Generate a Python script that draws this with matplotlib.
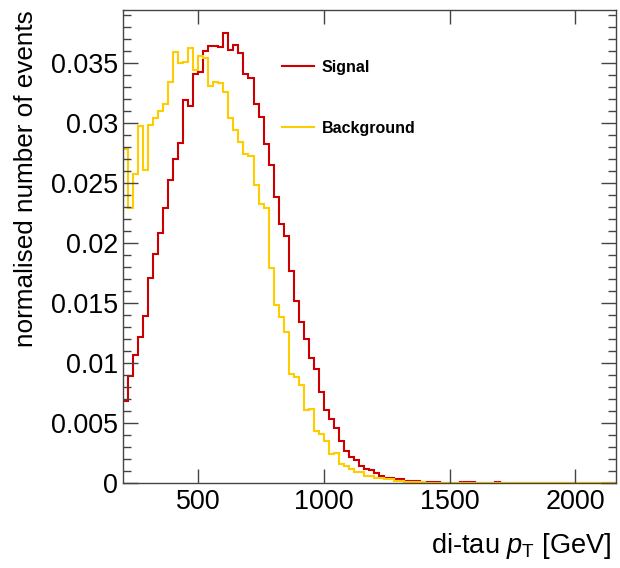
import numpy as np
import matplotlib
matplotlib.use("Agg")
import matplotlib.pyplot as plt
from matplotlib.ticker import MultipleLocator, FixedLocator

plt.rcParams['font.family'] = ['Liberation Sans', 'DejaVu Sans']
plt.rcParams['mathtext.fontset'] = 'custom'
plt.rcParams['mathtext.rm'] = 'Liberation Sans'
plt.rcParams['mathtext.it'] = 'Liberation Sans:italic'

# ---- data: 20 GeV bins from 200 GeV ----
bin_edges = np.arange(200, 2160 + 1, 20)

signal = [0.0068, 0.0089, 0.0107, 0.0122, 0.0139, 0.0171, 0.0191, 0.0208, 0.0229, 0.0252,
          0.0270, 0.0283, 0.0319, 0.0314, 0.0341, 0.0342, 0.0360, 0.0364, 0.0364, 0.0363,
          0.0375, 0.0361, 0.0365, 0.0358, 0.0341, 0.0337, 0.0316, 0.0305, 0.0282, 0.0265,
          0.0238, 0.0216, 0.0206, 0.0177, 0.0152, 0.0134, 0.0120, 0.0104, 0.0095, 0.0076,
          0.0061, 0.0053, 0.0046, 0.0035, 0.0027, 0.0022, 0.0019, 0.0014, 0.0012, 0.0011,
          0.0008, 0.0006, 0.0004, 0.0004, 0.0003, 0.0003, 0.0002, 0.0002, 0.0002, 0.0001,
          0.0001, 0.0001, 0.0001, 0.0, 0.0, 0.0, 0.0, 0.0001, 0.0001, 0.0001,
          0.0, 0.0, 0.0, 0.0, 0.0001, 0.0, 0.0, 0.0, 0.0, 0.0,
          0.0, 0.0, 0.0, 0.0, 0.0, 0.0, 0.0, 0.0, 0.0, 0.0,
          0.0, 0.0, 0.0, 0.0, 0.0, 0.0, 0.0, 0.0]

background = [0.0278, 0.0229, 0.0257, 0.0297, 0.0261, 0.0298, 0.0304, 0.0310, 0.0316, 0.0334,
              0.0359, 0.0350, 0.0351, 0.0362, 0.0344, 0.0356, 0.0354, 0.0331, 0.0334, 0.0333,
              0.0326, 0.0304, 0.0294, 0.0284, 0.0274, 0.0272, 0.0248, 0.0232, 0.0229, 0.0179,
              0.0148, 0.0138, 0.0126, 0.0091, 0.0088, 0.0082, 0.0061, 0.0062, 0.0043, 0.0041,
              0.0035, 0.0024, 0.0025, 0.0016, 0.0014, 0.0012, 0.0009, 0.0009, 0.0006, 0.0006,
              0.0004, 0.0004, 0.0003, 0.0003, 0.0002, 0.0002, 0.0001, 0.0001, 0.0001, 0.0001,
              0.0, 0.0, 0.0, 0.0, 0.0, 0.0, 0.0, 0.0, 0.0, 0.0,
              0.0, 0.0, 0.0, 0.0, 0.0, 0.0, 0.0, 0.0, 0.0, 0.0,
              0.0, 0.0, 0.0, 0.0, 0.0, 0.0, 0.0, 0.0, 0.0, 0.0,
              0.0, 0.0, 0.0, 0.0, 0.0, 0.0, 0.0, 0.0]

labels = ["Signal", "Background"]
x_ticks = [500, 1000, 1500, 2000]
y_major = [0, 0.005, 0.01, 0.015, 0.02, 0.025, 0.03, 0.035]
y_tick_labels = ["0", "0.005", "0.01", "0.015", "0.02", "0.025", "0.03", "0.035"]

# ---- figure ----
fig = plt.figure(figsize=(6.2, 5.68), dpi=100)
ax = fig.add_axes([0.198, 0.1496, 0.795, 0.8328])

red = '#cc0000'
yellow = '#ffcc00'
ax.stairs(signal, bin_edges, baseline=None, color=red, lw=1.5, label=labels[0])
ax.stairs(background, bin_edges, baseline=None, color=yellow, lw=1.5, label=labels[1])

ax.set_xlim(200, 2160)
ax.set_ylim(0, 0.0394)

ax.xaxis.set_major_locator(FixedLocator(x_ticks))
ax.set_xticklabels([str(v) for v in x_ticks])
ax.yaxis.set_major_locator(FixedLocator(y_major))
ax.set_yticklabels(y_tick_labels)
ax.yaxis.set_minor_locator(MultipleLocator(0.001))

for s in ax.spines.values():
    s.set_color('#444444')
    s.set_linewidth(1.0)

ax.tick_params(axis='both', which='both', direction='in', top=True, right=True,
               colors='#444444', labelcolor='black', labelsize=19.4)
ax.tick_params(axis='y', which='major', length=10.8, width=1.0, pad=3.6)
ax.tick_params(axis='y', which='minor', length=5.8, width=1.0)
ax.tick_params(axis='x', which='major', length=10.0, width=1.0, pad=4)

ax.set_xlabel('di-tau $p_{\\mathrm{T}}$ [GeV]', fontsize=19.6, loc='right')
ax.xaxis.set_label_coords(0.993, -0.148)
ax.xaxis.label.set_va('baseline')

ax.set_ylabel('normalised number of events', fontsize=18.8, loc='top')
ax.yaxis.set_label_coords(-0.197, 1.0)
ax.yaxis.label.set_va('center')

leg = ax.legend(loc='upper left', bbox_to_anchor=(0.323, 0.895), frameon=False,
                prop={'family': 'Liberation Sans', 'weight': 'bold', 'size': 11.5},
                handlelength=2.0, handletextpad=0.5, labelspacing=2.9,
                borderpad=0, borderaxespad=0)

fig.savefig('out.png', dpi=100, facecolor='white')
